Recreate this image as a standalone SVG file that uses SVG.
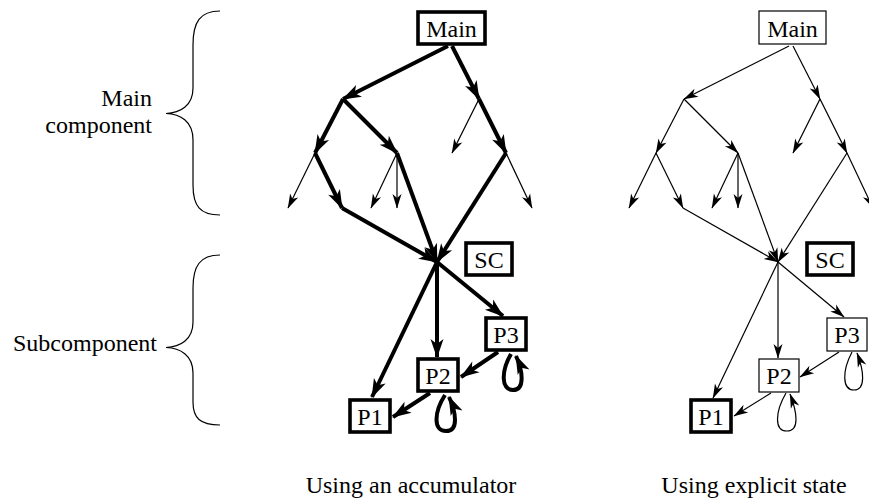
<svg xmlns="http://www.w3.org/2000/svg" width="869" height="502" viewBox="0 0 869 502">
<style>
text{font-family:"Liberation Serif","Times New Roman",serif;font-size:24px;fill:#000}
.box{fill:#fff;stroke:#000}
.bk{stroke-width:3.6}
.bn{stroke-width:1.2}
.ek{fill:none;stroke:#000;stroke-width:4;marker-end:url(#ahk)}
.en{fill:none;stroke:#000;stroke-width:1.2;marker-end:url(#ahn)}
.ekp{fill:none;stroke:#000;stroke-width:4}
.enp{fill:none;stroke:#000;stroke-width:1.2}
.brace{fill:none;stroke:#000;stroke-width:1.2}
</style>
<defs>
<marker id="ahk" markerUnits="userSpaceOnUse" orient="auto" refX="0" refY="0" markerWidth="30" markerHeight="30" overflow="visible">
<path d="M1,0 L-18,-6.5 L-13,0 L-18,6.5 Z" fill="#000"/>
</marker>
<marker id="ahn" markerUnits="userSpaceOnUse" orient="auto" refX="0" refY="0" markerWidth="20" markerHeight="20" overflow="visible">
<path d="M0.5,0 L-14,-4.5 L-10,0 L-14,4.5 Z" fill="#000"/>
</marker>
</defs>

<g id="labels">
<text x="152" y="106" text-anchor="end">Main</text>
<text x="152" y="133" text-anchor="end">component</text>
<text x="157" y="351" text-anchor="end">Subcomponent</text>
<path class="brace" d="M220,11 C200,11 193,22 193,45 L193,88 C193,106 180,113 166,113.5 C180,114 193,121 193,140 L193,185 C193,206 200,215 220,215"/>
<path class="brace" d="M220,255 C200,255 193,266 193,288 L193,322 C193,340 180,347 166,347.5 C180,348 193,355 193,373 L193,402 C193,418 200,425 220,425"/>
<text x="411" y="493" text-anchor="middle">Using an accumulator</text>
<text x="754" y="493" text-anchor="middle">Using explicit state</text>
</g>

<!-- Left panel: accumulator -->
<g id="left-connectors">
<path class="ek" d="M448,46 L343,99"/>
<path class="ek" d="M452,46 L479,99"/>
<path class="ek" d="M343,99 L315,153"/>
<path class="ek" d="M343,99 L397,153"/>
<path class="en" d="M479,99 L452,153"/>
<path class="ek" d="M479,99 L506,153"/>
<path class="en" d="M315,153 L288,208"/>
<path class="ek" d="M315,153 L342,208"/>
<path class="en" d="M397,153 L371,208"/>
<path class="en" d="M397,153 L397,208"/>
<path class="ek" d="M397,153 L437,262"/>
<path class="en" d="M506,153 L532,208"/>
<path class="ek" d="M506,153 L437,262"/>
<path class="ek" d="M342,208 L437,262"/>
<path class="ek" d="M437,262 L372,397"/>
<path class="ek" d="M437,262 L437,357"/>
<path class="ek" d="M437,262 L503,316"/>
<path class="ek" d="M498,352 L461,377"/>
<path class="ek" d="M430,393 L393,417"/>
<path class="ek" d="M445,395 C434,412 433,431 446,431 C459,431 456,412 449,397"/>
<path class="ek" d="M511,354 C501,371 501,390 513,390 C525,390 523,371 516,356"/>
</g>
<g id="left-Main"><rect class="box bk" x="418" y="12" width="67" height="32"/><text x="451.5" y="37" text-anchor="middle">Main</text></g>
<g id="left-SC"><rect class="box bk" x="466" y="243" width="46" height="32"/><text x="489" y="268" text-anchor="middle">SC</text></g>
<g id="left-P3"><rect class="box bk" x="486" y="318" width="40" height="32"/><text x="506" y="343" text-anchor="middle">P3</text></g>
<g id="left-P2"><rect class="box bk" x="418" y="359" width="40" height="32"/><text x="438" y="384" text-anchor="middle">P2</text></g>
<g id="left-P1"><rect class="box bk" x="350" y="400" width="40" height="32"/><text x="370" y="425" text-anchor="middle">P1</text></g>

<!-- Right panel: explicit state -->
<g transform="translate(341,0)">
<g id="right-connectors">
<path class="en" d="M448,46 L343,99"/>
<path class="en" d="M452,46 L479,99"/>
<path class="en" d="M343,99 L315,153"/>
<path class="en" d="M343,99 L397,153"/>
<path class="en" d="M479,99 L452,153"/>
<path class="en" d="M479,99 L506,153"/>
<path class="en" d="M315,153 L288,208"/>
<path class="en" d="M315,153 L342,208"/>
<path class="en" d="M397,153 L371,208"/>
<path class="en" d="M397,153 L397,208"/>
<path class="en" d="M397,153 L437,262"/>
<path class="en" d="M506,153 L532,208"/>
<path class="en" d="M506,153 L437,262"/>
<path class="en" d="M342,208 L437,262"/>
<path class="en" d="M437,262 L372,398"/>
<path class="en" d="M437,262 L437,358"/>
<path class="en" d="M437,262 L503,317"/>
<path class="en" d="M498,352 L459,377"/>
<path class="en" d="M430,393 L393,416"/>
<path class="en" d="M445,393 C434,412 433,431 446,431 C459,431 456,412 449,394"/>
<path class="en" d="M511,352 C501,371 501,390 513,390 C525,390 523,371 516,353"/>
</g>
<g id="right-Main"><rect class="box bn" x="418" y="11" width="67" height="33"/><text x="451.5" y="37" text-anchor="middle">Main</text></g>
<g id="right-SC"><rect class="box bk" x="466" y="243" width="46" height="32"/><text x="489" y="268" text-anchor="middle">SC</text></g>
<g id="right-P3"><rect class="box bn" x="486" y="318" width="40" height="33"/><text x="506" y="343" text-anchor="middle">P3</text></g>
<g id="right-P2"><rect class="box bn" x="418" y="359" width="40" height="33"/><text x="438" y="384" text-anchor="middle">P2</text></g>
<g id="right-P1"><rect class="box bk" x="350" y="400" width="40" height="32"/><text x="370" y="425" text-anchor="middle">P1</text></g>
</g>
</svg>
